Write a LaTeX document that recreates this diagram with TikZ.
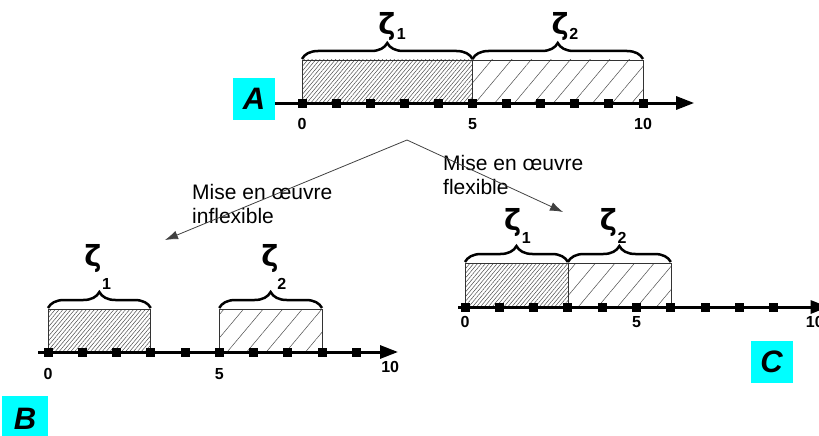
\documentclass[tikz,border=0pt]{standalone}
\usepackage{fontspec}
\setmainfont{Liberation Sans}
\newfontfamily\zetafont{DejaVu Sans}
\usetikzlibrary{arrows.meta,patterns.meta,decorations.pathreplacing}
\definecolor{boxcyan}{RGB}{0,255,255}

\begin{document}
\begin{tikzpicture}[x=1pt,y=-1pt]
    \tikzstyle{tick}=[rectangle,fill=black,minimum size=9pt,inner sep=0pt]
    \tikzstyle{axis}=[line width=3pt,-{Triangle[length=18pt,width=13pt]}]
    \tikzstyle{dense}=[draw=black!80,line width=0.6pt,pattern={Lines[angle=50,distance=3pt,line width=0.5pt]},pattern color=black!70]
    \tikzstyle{sparse}=[draw=black!80,line width=0.6pt,pattern={Lines[angle=50,distance=15pt,line width=0.5pt]},pattern color=black!70]
    \tikzstyle{curly}=[decorate,decoration={brace,amplitude=16pt},line width=2.5pt]
    \tikzstyle{zeta}=[inner sep=0pt,font=\zetafont\fontsize{29}{29}\selectfont\bfseries]
    \tikzstyle{num}=[inner sep=0pt,font=\fontsize{16}{16}\selectfont\bfseries]
    \tikzstyle{panel}=[fill=boxcyan,minimum size=42pt,inner sep=0pt,font=\fontsize{31}{31}\selectfont\bfseries\itshape]
    \tikzstyle{note}=[inner sep=0pt,anchor=north west,align=left,font=\fontsize{21}{24}\selectfont]
    \tikzstyle{link}=[draw=black!75,line width=0.8pt,-{Latex[length=13pt,width=9pt]}]
    \useasboundingbox (0,0) rectangle (819,436);

    % panel A
    \node[panel] (A) at (254,98.5) {A};
    \begin{scope}[shift={(302,103)},x=34.1pt]
        \draw[dense] (0,0) rectangle (5,-43);
        \draw[sparse] (5,0) rectangle (10,-43);
        \draw[axis] (-0.8,0) -- (11.5,0);
        \foreach \i in {0,...,10}
            \node[tick] (A-\i) at (\i,0) {};
        \foreach \i in {0,5,10}
            \node[num] (A-n\i) at (\i,21) {\i};
        \draw[curly] (0,-44) -- (5,-44);
        \draw[curly] (5,-44) -- (10,-44);
        \node[zeta] (A-z1) at (2.49,-77) {ζ};
        \node[num] (A-s1) at (2.91,-69) {1};
        \node[zeta] (A-z2) at (7.57,-77) {ζ};
        \node[num] (A-s2) at (7.97,-69) {2};
    \end{scope}

    % panel B
    \node[panel,minimum size=46pt] (B) at (25,419) {B};
    \begin{scope}[shift={(48,352)},x=34.25pt]
        \draw[dense] (0,0) rectangle (3,-43);
        \draw[sparse] (5,0) rectangle (8,-43);
        \draw[axis] (-0.29,0) -- (10.22,0);
        \foreach \i in {0,...,9}
            \node[tick] (B-\i) at (\i,0) {};
        \node[num] (B-n0) at (0,22) {0};
        \node[num] (B-n5) at (5,22) {5};
        \node[num] (B-n10) at (9.99,15) {10};
        \draw[curly] (0,-44) -- (3,-44);
        \draw[curly] (5,-44) -- (8,-44);
        \node[zeta] (B-z1) at (1.31,-94) {ζ};
        \node[num] (B-s1) at (1.71,-68) {1};
        \node[zeta] (B-z2) at (6.48,-94) {ζ};
        \node[num] (B-s2) at (6.83,-68) {2};
    \end{scope}

    % panel C
    \node[panel] (C) at (771.5,361.5) {C};
    \begin{scope}[shift={(465,307)},x=34.3pt]
        \draw[dense] (0,0) rectangle (3,-44);
        \draw[sparse] (3,0) rectangle (6,-44);
        \draw[axis] (-0.2,0) -- (10.6,0);
        \foreach \i in {0,...,9}
            \node[tick] (C-\i) at (\i,0) {};
        \node[num] (C-n0) at (0,15) {0};
        \node[num] (C-n5) at (5,15) {5};
        \node[num] (C-n10) at (10.2,15) {10};
        \draw[curly] (0,-45) -- (3,-45);
        \draw[curly] (3,-45) -- (6,-45);
        \node[zeta] (C-z1) at (1.39,-84.5) {ζ};
        \node[num] (C-s1) at (1.79,-69.5) {1};
        \node[zeta] (C-z2) at (4.18,-84.5) {ζ};
        \node[num] (C-s2) at (4.58,-69.5) {2};
    \end{scope}

    % the two ways
    \node[note] (inflex-txt) at (192,184) {Mise en œuvre\\inflexible};
    \node[note] (flex-txt) at (443,155) {Mise en œuvre\\flexible};
    \coordinate (split) at (407,140);
    \coordinate (inflex) at (165,240);
    \coordinate (flex) at (563,212);
    \draw[link] (split) -- (inflex);
    \draw[link] (split) -- (flex);
\end{tikzpicture}
\end{document}
